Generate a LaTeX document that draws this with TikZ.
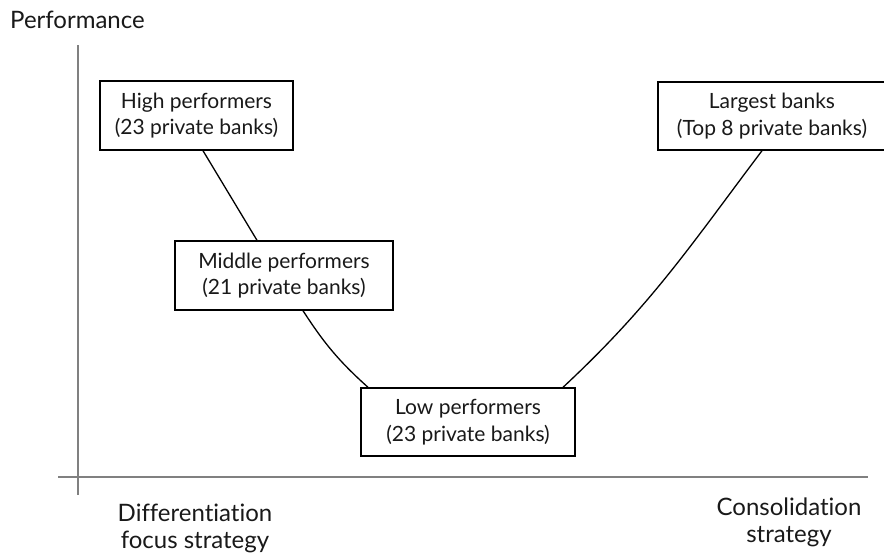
\documentclass[tikz,border=0pt]{standalone}
\usepackage{fontspec}
\setmainfont{Lato}[Ligatures={NoCommon,NoContextual}]
\begin{document}
\begin{tikzpicture}[x=1pt,y=-1pt,
  txt/.style={font=\fontsize{21}{26.5}\selectfont, text=black!90, align=center, inner sep=0pt},
  axislabel/.style={txt, font=\fontsize{24}{27}\selectfont},
  groupbox/.style={txt, draw=black, line width=1.4pt, fill=white, anchor=center},
  axis/.style={draw=black!50, line width=1.3pt},
  link/.style={draw=black, line width=1.3pt}]
\useasboundingbox (0,0) rectangle (884,555);
\clip (0,0) rectangle (884,555);
% axes
\coordinate (ytop) at (78,45);
\coordinate (ybot) at (78,495);
\coordinate (xleft) at (58,477);
\coordinate (xright) at (868,477);
\draw[axis] (ytop) -- (ybot);
\draw[axis] (xleft) -- (xright);
% labels
\node[axislabel, anchor=base west] (perf) at (10,28) {Performance};
\node[axislabel, anchor=base] (diff) at (195,548) {Differentiation\\focus strategy};
\node[axislabel, anchor=base] (cons) at (789,542) {Consolidation\\strategy};
% boxes
\node[groupbox, minimum width=193pt, minimum height=69pt] (high) at (196.5,115.5) {High performers\\(23 private banks)};
\node[groupbox, minimum width=218pt, minimum height=69pt] (mid) at (284,275.5) {Middle performers\\(21 private banks)};
\node[groupbox, minimum width=214pt, minimum height=68pt] (low) at (468,422) {Low performers\\(23 private banks)};
\node[groupbox, minimum width=228pt, minimum height=68pt] (large) at (772,116) {Largest banks\\(Top 8 private banks)};
% connectors
\draw[link] ([xshift=6.5pt]high.south) -- ([xshift=-27pt]mid.north);
\draw[link] ([xshift=19pt]mid.south) to[out=-57,in=138] ([xshift=-100pt]low.north);
\draw[link] ([xshift=95pt]low.north) to[out=43,in=-127] ([xshift=-10pt]large.south);
\end{tikzpicture}
\end{document}
